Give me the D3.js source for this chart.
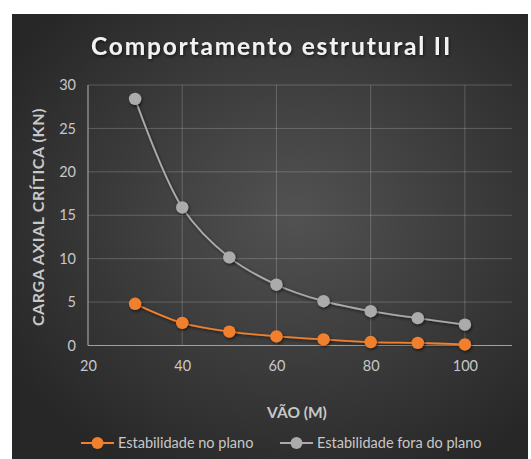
<!DOCTYPE html>
<html><head><meta charset="utf-8">
<script src="https://cdn.jsdelivr.net/npm/d3@7"></script>
<style>html,body{margin:0;padding:0;background:#fff;}svg{display:block;}</style>
</head><body>
<svg id="chart" width="531" height="459"></svg>
<script>
const spans = [30, 40, 50, 60, 70, 80, 90, 100];
const inPlane = [4.8, 2.6, 1.6, 1.05, 0.7, 0.4, 0.3, 0.12];
const outPlane = [28.4, 15.9, 10.15, 7.0, 5.1, 3.95, 3.15, 2.4];
const xTicks = [20, 40, 60, 80, 100];
const yTicks = [0, 5, 10, 15, 20, 25, 30];
const seriesNames = ["Estabilidade no plano", "Estabilidade fora do plano"];
const seriesColors = ["#f0802d", "#ababab"];
const title = "Comportamento estrutural II";
const xTitle = "VÃO (M)";
const yTitle = "CARGA AXIAL CRÍTICA (KN)";

const svg = d3.select("#chart");
const defs = svg.append("defs");
const rg = defs.append("radialGradient").attr("id","bg").attr("cx","0.55").attr("cy","0.45").attr("r","0.65");
rg.append("stop").attr("offset","0").attr("stop-color","#525252");
rg.append("stop").attr("offset","1").attr("stop-color","#272727");
const sh = defs.append("filter").attr("id","sh").attr("x","-50%").attr("y","-50%").attr("width","200%").attr("height","200%");
sh.append("feDropShadow").attr("dx",1).attr("dy",1.5).attr("stdDeviation",1.5).attr("flood-color","#000").attr("flood-opacity",0.6);

svg.append("rect").attr("x",12).attr("y",14).attr("width",516).attr("height",445).attr("fill","url(#bg)");

const font = "Lato, 'Open Sans', sans-serif";
const x = d3.scaleLinear().domain([20,110]).range([88,512]);
const y = d3.scaleLinear().domain([0,30]).range([345.5,85]);

// gridlines
const g = svg.append("g");
g.selectAll(".hg").data(yTicks.filter(d=>d>0)).join("line")
  .attr("x1",x(20)).attr("x2",x(110)).attr("y1",d=>y(d)).attr("y2",d=>y(d))
  .attr("stroke","#ffffff").attr("stroke-opacity",0.2).attr("stroke-width",1);
g.selectAll(".vg").data(xTicks.filter(d=>d>20)).join("line")
  .attr("y1",y(0)).attr("y2",y(30)).attr("x1",d=>x(d)).attr("x2",d=>x(d))
  .attr("stroke","#ffffff").attr("stroke-opacity",0.2).attr("stroke-width",1);
// axes lines
g.append("line").attr("x1",x(20)).attr("x2",x(110)).attr("y1",y(0)).attr("y2",y(0)).attr("stroke","#a0a0a0").attr("stroke-width",1.2);
g.append("line").attr("x1",x(20)).attr("x2",x(20)).attr("y1",y(0)).attr("y2",y(30)).attr("stroke","#a0a0a0").attr("stroke-width",1.2);

// axes via d3
const xa = svg.append("g").attr("transform",`translate(0,${y(0)})`)
  .call(d3.axisBottom(x).tickValues(xTicks).tickSize(0).tickPadding(15));
const ya = svg.append("g").attr("transform",`translate(${x(20)},0)`)
  .call(d3.axisLeft(y).tickValues(yTicks).tickSize(0).tickPadding(12));
[xa,ya].forEach(a=>{
  a.select(".domain").remove();
  a.selectAll("text").attr("fill","#c8c8c8").style("font-family",font).style("font-size","14.5px");
});

// lines
const line = d3.line().x(d=>x(d[0])).y(d=>y(d[1])).curve(d3.curveCatmullRom.alpha(0.5));
[inPlane, outPlane].forEach((vals,i)=>{
  const pts = spans.map((s,j)=>[s, vals[j]]);
  svg.append("path").datum(pts).attr("d",line).attr("fill","none")
    .attr("stroke",seriesColors[i]).attr("stroke-width",1.8).attr("filter","url(#sh)");
  svg.append("g").selectAll("circle").data(pts).join("circle")
    .attr("cx",d=>x(d[0])).attr("cy",d=>y(d[1])).attr("r",6.2)
    .attr("fill",seriesColors[i]).attr("filter","url(#sh)");
});

// title
svg.append("text").attr("x",271.5).attr("y",55).attr("text-anchor","middle")
  .attr("fill","#f2f2f2").style("font-family",font).style("font-size","24.5px").style("font-weight","bold")
  .style("letter-spacing","1.8px").attr("filter","url(#sh)").text(title);

// axis titles
svg.append("text").attr("x",297).attr("y",418).attr("text-anchor","middle")
  .attr("fill","#c8c8c8").style("font-family",font).style("font-size","15.5px").style("font-weight","bold").text(xTitle);
svg.append("text").attr("transform","translate(44,217) rotate(-90)").attr("text-anchor","middle")
  .attr("fill","#c8c8c8").style("font-family",font).style("font-size","16px").style("font-weight","bold")
  .style("letter-spacing","0.6px").text(yTitle);

// legend
const legX = [81, 280];
seriesNames.forEach((n,i)=>{
  const lg = svg.append("g");
  lg.append("line").attr("x1",legX[i]).attr("x2",legX[i]+33).attr("y1",443).attr("y2",443)
    .attr("stroke",seriesColors[i]).attr("stroke-width",1.8);
  lg.append("circle").attr("cx",legX[i]+16.5).attr("cy",443).attr("r",6).attr("fill",seriesColors[i]);
  lg.append("text").attr("x",legX[i]+37).attr("y",448).attr("fill","#c8c8c8")
    .style("font-family",font).style("font-size","14.5px").text(n);
});
</script>
</body></html>
